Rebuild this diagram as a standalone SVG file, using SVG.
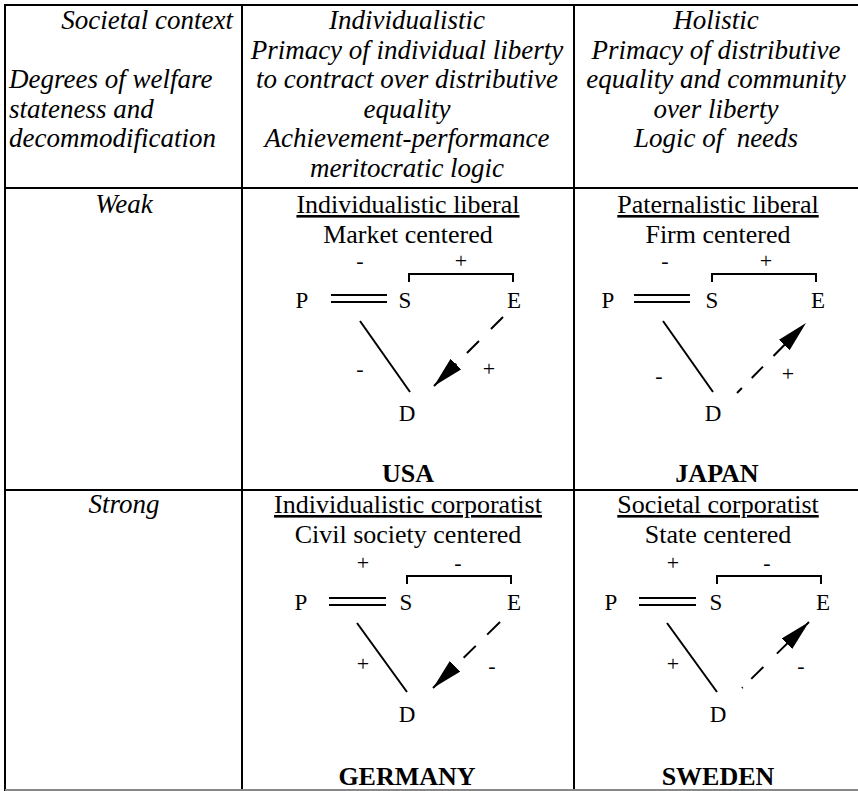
<svg xmlns="http://www.w3.org/2000/svg" width="858" height="791" viewBox="0 0 858 791">
<style>
.h{font-style:italic;font-size:27px}
.m{text-anchor:middle}
.b{font-size:26px}
.u{text-decoration:underline}
.c{font-size:26px;font-weight:bold}
.l{font-size:23px}
.s{font-size:22px}
.grid{stroke:#000;stroke-width:2;fill:none}
.ln{stroke:#000;stroke-width:2;fill:none}
.ds{stroke:#000;stroke-width:2;fill:none}
</style>
<defs>
<marker id="ah" markerUnits="userSpaceOnUse" markerWidth="34" markerHeight="18" refX="31" refY="7.5" orient="auto">
<path d="M0,0 L31,7.5 L0,15 Z" fill="#000"/>
</marker>
</defs>
<rect width="858" height="791" fill="#fff"/>
<g id="grid">
<line class="grid" x1="5" y1="5" x2="858" y2="5"/>
<line class="grid" x1="5" y1="4" x2="5" y2="791"/>
<line class="grid" x1="5" y1="188" x2="858" y2="188"/>
<line class="grid" x1="5" y1="490" x2="858" y2="490"/>
<line class="grid" x1="242" y1="5" x2="242" y2="790"/>
<line class="grid" x1="574" y1="5" x2="574" y2="790"/>
<line x1="5" y1="790" x2="858" y2="790" stroke="#888" stroke-width="2"/>
</g>
<g font-family="Liberation Serif, Tinos, Times New Roman, serif" fill="#000">
<g id="header">
<text class="h" x="233" y="29" text-anchor="end">Societal context</text>
<text class="h" x="9" y="88">Degrees of welfare</text>
<text class="h" x="9" y="118">stateness and</text>
<text class="h" x="9" y="147">decommodification</text>
<text class="h m" x="407" y="29">Individualistic</text>
<text class="h m" x="407" y="59">Primacy of individual liberty</text>
<text class="h m" x="407" y="88">to contract over distributive</text>
<text class="h m" x="407" y="118">equality</text>
<text class="h m" x="407" y="147">Achievement-performance</text>
<text class="h m" x="407" y="177">meritocratic logic</text>
<text class="h m" x="716" y="29">Holistic</text>
<text class="h m" x="716" y="59">Primacy of distributive</text>
<text class="h m" x="716" y="88">equality and community</text>
<text class="h m" x="716" y="118">over liberty</text>
<text class="h m" x="716" y="147" xml:space="preserve">Logic of  needs</text>
<text class="h m" x="124" y="213">Weak</text>
<text class="h m" x="124" y="513">Strong</text>
</g>
<g id="usa">
<text class="b m u" x="408" y="213">Individualistic liberal</text>
<text class="b m" x="408" y="243">Market centered</text>
<text class="s m" x="360" y="268">-</text>
<text class="s m" x="461" y="268">+</text>
<path class="ln" d="M409,282 V274 H513 V282"/>
<text class="l m" x="302" y="308">P</text>
<text class="l m" x="405" y="308">S</text>
<text class="l m" x="514" y="308">E</text>
<line class="ln" x1="331" y1="295" x2="387" y2="295"/>
<line class="ln" x1="331" y1="302" x2="387" y2="302"/>
<line class="ln" x1="360" y1="321" x2="410" y2="392"/>
<text class="s m" x="360" y="376">-</text>
<line class="ds" x1="503" y1="317" x2="434" y2="386" stroke-dasharray="17 17 17 15 40" marker-end="url(#ah)"/>
<text class="s m" x="489" y="376">+</text>
<text class="l m" x="407" y="421">D</text>
<text class="c m" x="408" y="482">USA</text>
</g>
<g id="japan">
<text class="b m u" x="718" y="213">Paternalistic liberal</text>
<text class="b m" x="718" y="243">Firm centered</text>
<text class="s m" x="665" y="268">-</text>
<text class="s m" x="766" y="268">+</text>
<path class="ln" d="M712,282 V274 H816 V282"/>
<text class="l m" x="608" y="308">P</text>
<text class="l m" x="712" y="308">S</text>
<text class="l m" x="818" y="308">E</text>
<line class="ln" x1="634" y1="295" x2="690" y2="295"/>
<line class="ln" x1="634" y1="302" x2="690" y2="302"/>
<line class="ln" x1="663" y1="321" x2="713" y2="392"/>
<text class="s m" x="659" y="383">-</text>
<line class="ds" x1="737" y1="393" x2="806" y2="323" stroke-dasharray="7 14 16 15 40" marker-end="url(#ah)"/>
<text class="s m" x="788" y="381">+</text>
<text class="l m" x="713" y="421">D</text>
<text class="c m" x="717" y="482">JAPAN</text>
</g>
<g id="germany">
<text class="b m u" x="408" y="513">Individualistic corporatist</text>
<text class="b m" x="408" y="543">Civil society centered</text>
<text class="s m" x="363" y="570">+</text>
<text class="s m" x="458" y="570">-</text>
<path class="ln" d="M407,584 V576 H511 V584"/>
<text class="l m" x="301" y="610">P</text>
<text class="l m" x="406" y="610">S</text>
<text class="l m" x="514" y="610">E</text>
<line class="ln" x1="329" y1="598" x2="386" y2="598"/>
<line class="ln" x1="329" y1="605" x2="386" y2="605"/>
<line class="ln" x1="357" y1="623" x2="407" y2="692"/>
<text class="s m" x="363" y="671">+</text>
<line class="ds" x1="500" y1="622" x2="433" y2="688" stroke-dasharray="18 16 17 13 40" marker-end="url(#ah)"/>
<text class="s m" x="492" y="673">-</text>
<text class="l m" x="407" y="722">D</text>
<text class="c m" x="407" y="785">GERMANY</text>
</g>
<g id="sweden">
<text class="b m u" x="718" y="513">Societal corporatist</text>
<text class="b m" x="718" y="543">State centered</text>
<text class="s m" x="673" y="570">+</text>
<text class="s m" x="767" y="570">-</text>
<path class="ln" d="M717,584 V576 H821 V584"/>
<text class="l m" x="611" y="610">P</text>
<text class="l m" x="716" y="610">S</text>
<text class="l m" x="823" y="610">E</text>
<line class="ln" x1="639" y1="598" x2="696" y2="598"/>
<line class="ln" x1="639" y1="605" x2="696" y2="605"/>
<line class="ln" x1="667" y1="623" x2="717" y2="692"/>
<text class="s m" x="673" y="671">+</text>
<line class="ds" x1="742" y1="688" x2="809" y2="622" stroke-dasharray="1 12 17 19 40" marker-end="url(#ah)"/>
<text class="s m" x="801" y="673">-</text>
<text class="l m" x="718" y="722">D</text>
<text class="c m" x="718" y="785">SWEDEN</text>
</g>
</g>
</svg>
